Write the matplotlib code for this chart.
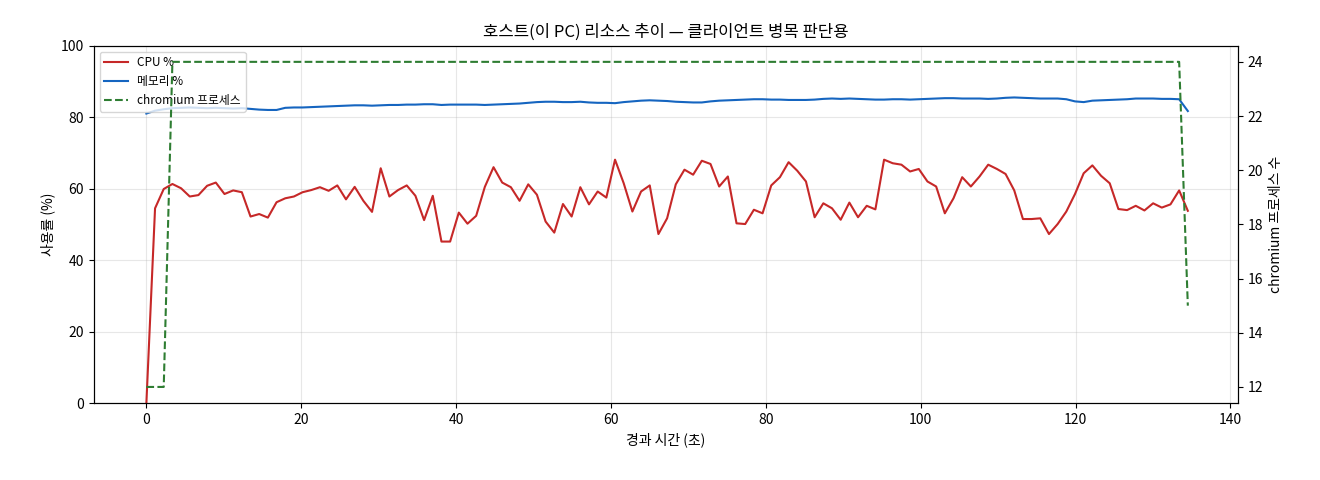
import numpy as np
import matplotlib
matplotlib.use("Agg")
import matplotlib.pyplot as plt

plt.rcParams['font.family'] = ['Noto Sans CJK KR', 'DejaVu Sans']

t_end = 134.5
cpu = [0, 54.5, 59.9, 61.3, 60.1, 57.8, 58.2, 60.8, 61.7, 58.5, 59.5, 59.0, 52.2, 52.9, 51.9, 56.2,
       57.3, 57.8, 59.0, 59.6, 60.4, 59.4, 60.9, 57.0, 60.5, 56.6, 53.5, 65.7, 57.8, 59.6, 60.9,
       58.0, 51.2, 58.0, 45.2, 45.2, 53.3, 50.2, 52.4, 60.5, 66.0, 61.7, 60.4, 56.6,
       61.2, 58.3, 50.8, 47.7, 55.7, 52.2, 60.4, 55.6, 59.2, 57.5, 68.1, 61.5, 53.6, 59.2, 60.9,
       47.3, 51.7, 61.2, 65.3, 63.9, 67.8, 66.9, 60.6, 63.4, 50.3, 50.1, 54.1, 53.1, 60.9, 63.2,
       67.4, 65.0, 62.0, 52.0, 55.9, 54.5, 51.3, 56.1, 52.0, 55.2, 54.2,
       68.1, 67.1, 66.7, 64.8, 65.5, 62.0, 60.6, 53.1, 57.3, 63.2, 60.6, 63.4, 66.7, 65.5, 64.1,
       59.5, 51.5, 51.5, 51.7, 47.3, 50.1, 53.6, 58.5, 64.3, 66.5, 63.6, 61.5, 54.3, 54.0, 55.2,
       53.9, 55.9, 54.7, 55.6, 59.5, 53.8]
mem = [81.0, 81.8, 82.2, 82.5, 82.6, 82.7, 82.6, 82.5, 82.6, 82.5, 82.4, 82.5, 82.3, 82.1, 82.0, 82.0, 82.6, 82.7, 82.7, 82.8,
       82.9, 83.0, 83.1, 83.2, 83.3, 83.3, 83.2, 83.3, 83.4, 83.4,
       83.5, 83.5, 83.6, 83.6, 83.4, 83.5, 83.5, 83.5, 83.5, 83.4,
       83.5, 83.6, 83.7, 83.8, 84.0, 84.2, 84.3, 84.3, 84.2, 84.2,
       84.3, 84.1, 84.0, 84.0, 83.9, 84.2, 84.4, 84.6, 84.7, 84.6,
       84.5, 84.3, 84.2, 84.1, 84.1, 84.4, 84.6, 84.7, 84.8, 84.9,
       85.0, 85.0, 84.9, 84.9, 84.8, 84.8, 84.8, 84.9, 85.1, 85.2,
       85.1, 85.2, 85.1, 85.0, 84.9, 84.9, 85.0, 85.0, 84.9, 85.0,
       85.1, 85.2, 85.3, 85.3, 85.2, 85.2, 85.2, 85.1, 85.2, 85.4,
       85.5, 85.4, 85.3, 85.2, 85.2, 85.2, 85.0, 84.4, 84.2, 84.6,
       84.7, 84.8, 84.9, 85.0, 85.2, 85.2, 85.2, 85.1, 85.1, 85.0, 81.7]
procs = [12, 12, 12] + [24] * 117 + [15]

n = len(cpu)
t = np.linspace(0, t_end, n)

fig, ax = plt.subplots(figsize=(13.2, 4.8), dpi=100)
l1, = ax.plot(t, cpu, color='#c62828', lw=1.5, label='CPU %')
l2, = ax.plot(t, mem, color='#1565c0', lw=1.5, label='메모리 %')
ax.set_ylim(0, 100)
ax.set_xlim(-6.8, 141)
ax.set_xlabel('경과 시간 (초)')
ax.set_ylabel('사용률 (%)')
ax.grid(True, alpha=0.3)
ax.set_title('호스트(이 PC) 리소스 추이 — 클라이언트 병목 판단용')

ax2 = ax.twinx()
l3, = ax2.plot(t, procs, color='#2e7d32', lw=1.5, ls='--', label='chromium 프로세스')
ax2.set_ylim(11.4, 24.6)
ax2.set_yticks([12, 14, 16, 18, 20, 22, 24])
ax2.set_ylabel('chromium 프로세스 수')

ax.legend(handles=[l1, l2, l3], loc='upper left', fontsize=8.5)
fig.subplots_adjust(left=0.071, right=0.938, top=0.905, bottom=0.16)
fig.savefig('out.png')
